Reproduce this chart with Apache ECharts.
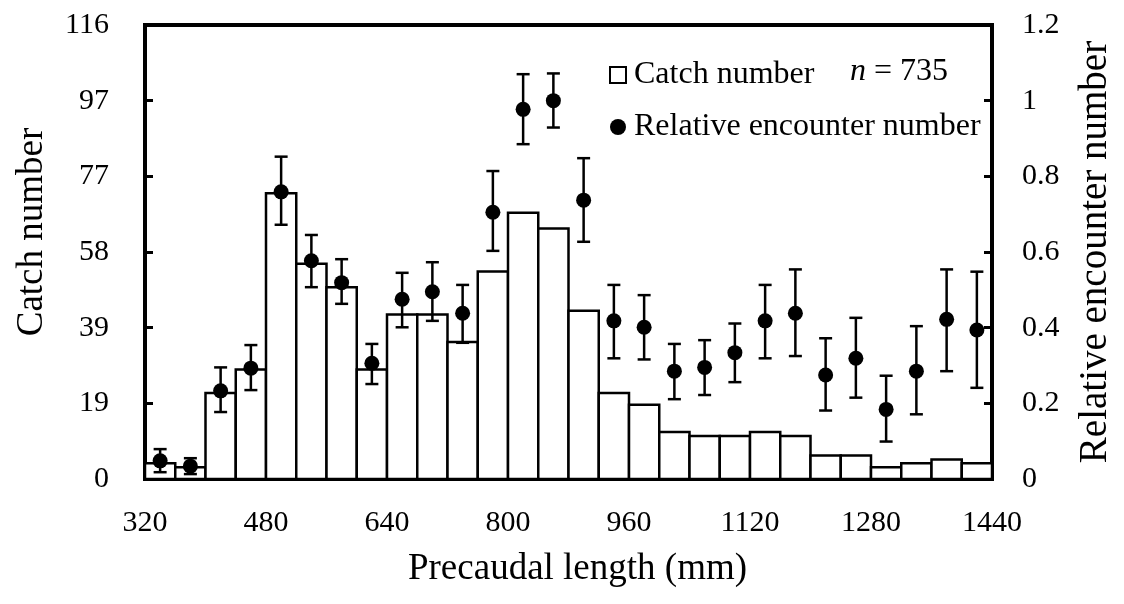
<!DOCTYPE html>
<html>
<head>
<meta charset="utf-8">
<script src="https://cdn.jsdelivr.net/npm/echarts@6/dist/echarts.min.js"></script>
<style>
html,body{margin:0;padding:0;background:#fff;}
#chart{width:1124px;height:604px;}
</style>
</head>
<body>
<div id="chart"></div>
<script>
// Length bins (mm): start of each 40 mm class
const binStarts = [320, 360, 400, 440, 480, 520, 560, 600, 640, 680, 720, 760, 800, 840,
                   880, 920, 960, 1000, 1040, 1080, 1120, 1160, 1200, 1240, 1280, 1320, 1360, 1400];
const binWidth = 40;
// Catch number per bin (left axis)
const catchNumber = [4, 3, 22, 28, 73, 55, 49, 28, 42, 42, 35, 53, 68, 64,
                     43, 22, 19, 12, 11, 11, 12, 11, 6, 6, 3, 4, 5, 4];
// Relative encounter number (right axis) with error bar limits
const relEncounter = [0.048, 0.034, 0.233, 0.293, 0.759, 0.577, 0.519, 0.306, 0.475, 0.495, 0.438, 0.705, 0.977, 1.000,
                      0.737, 0.418, 0.401, 0.285, 0.295, 0.334, 0.418, 0.438, 0.275, 0.319, 0.184, 0.285, 0.422, 0.394];
const relLower = [0.018, 0.013, 0.177, 0.235, 0.672, 0.507, 0.463, 0.251, 0.401, 0.418, 0.360, 0.603, 0.885, 0.929,
                  0.627, 0.319, 0.316, 0.211, 0.222, 0.256, 0.319, 0.325, 0.181, 0.215, 0.099, 0.171, 0.285, 0.241];
const relUpper = [0.079, 0.055, 0.295, 0.354, 0.852, 0.645, 0.581, 0.357, 0.545, 0.573, 0.513, 0.814, 1.070, 1.072,
                  0.848, 0.513, 0.486, 0.357, 0.367, 0.411, 0.513, 0.554, 0.372, 0.426, 0.273, 0.404, 0.554, 0.548];
// Tick labels
const xTicks = [320, 480, 640, 800, 960, 1120, 1280, 1440];
const leftTickLabels = ['0', '19', '39', '58', '77', '97', '116'];
const rightTickLabels = ['0', '0.2', '0.4', '0.6', '0.8', '1', '1.2'];
const sampleSize = 735;

const FONT = 'Liberation Serif';
const chart = echarts.init(document.getElementById('chart'), null, {renderer: 'canvas'});

const barData = binStarts.map((s, i) => [s, s + binWidth, catchNumber[i]]);
const pointData = binStarts.map((s, i) => [s + binWidth / 2, relEncounter[i]]);
const errData = binStarts.map((s, i) => [s + binWidth / 2, relLower[i], relUpper[i]]);

const leftMax = Number(leftTickLabels[leftTickLabels.length - 1]);
const leftInterval = leftMax / (leftTickLabels.length - 1);

const option = {
  animation: false,
  backgroundColor: '#fff',
  grid: {left: 145, right: 132, top: 25, bottom: 125, show: true, borderColor: '#000', borderWidth: 4, backgroundColor: 'transparent'},
  legend: {
    left: 604, top: 54, orient: 'vertical', selectedMode: false,
    itemWidth: 16, itemHeight: 16, itemGap: 20,
    textStyle: {fontFamily: FONT, fontSize: 32, color: '#000', padding: [0, 0, 0, 3]},
    data: [
      {name: 'Catch number', icon: 'rect', itemStyle: {color: '#fff', borderColor: '#000', borderWidth: 2}},
      {name: 'Relative encounter number', icon: 'circle', itemStyle: {color: '#000', borderWidth: 0}}
    ]
  },
  graphic: [{
    type: 'text', left: 850, top: 56,
    style: {
      text: '{i|n} = ' + sampleSize,
      font: '32px "' + FONT + '"', fill: '#000',
      rich: {i: {fontStyle: 'italic', fontFamily: FONT, fontSize: 32}}
    }
  }],
  xAxis: {
    type: 'value', min: xTicks[0], max: xTicks[xTicks.length - 1], interval: xTicks[1] - xTicks[0],
    name: 'Precaudal length (mm)', nameLocation: 'middle', nameGap: 72,
    nameTextStyle: {fontFamily: FONT, fontSize: 37, color: '#000', padding: [0, 0, 0, 18]},
    axisLine: {show: true, lineStyle: {color: '#000', width: 4}},
    axisTick: {show: true, inside: true, length: 5, lineStyle: {color: '#000', width: 3}},
    minorTick: {show: true, splitNumber: 4, length: 5, lineStyle: {color: '#000', width: 3}},
    axisLabel: {fontFamily: FONT, fontSize: 30, color: '#000', margin: 29,
      formatter: (v) => String(Math.round(v))},
    splitLine: {show: false}
  },
  yAxis: [{
    type: 'value', min: 0, max: leftMax, interval: leftInterval, position: 'left',
    name: 'Catch number', nameLocation: 'middle', nameGap: 94,
    nameTextStyle: {fontFamily: FONT, fontSize: 37, color: '#000', padding: [0, 0, 0, 40]},
    axisLine: {show: true, lineStyle: {color: '#000', width: 4}},
    axisTick: {show: true, inside: true, length: 8, lineStyle: {color: '#000', width: 3}},
    axisLabel: {fontFamily: FONT, fontSize: 30, color: '#000', margin: 36,
      formatter: (v) => leftTickLabels[Math.round(v / leftInterval)]},
    splitLine: {show: false}
  }, {
    type: 'value', min: 0, max: 1.2, interval: 0.2, position: 'right',
    name: 'Relative encounter number', nameLocation: 'middle', nameGap: 84,
    nameTextStyle: {fontFamily: FONT, fontSize: 39, color: '#000'},
    axisLine: {show: true, lineStyle: {color: '#000', width: 4}},
    axisTick: {show: true, inside: true, length: 8, lineStyle: {color: '#000', width: 3}},
    axisLabel: {fontFamily: FONT, fontSize: 30, color: '#000', margin: 30,
      formatter: (v) => rightTickLabels[Math.round(v / 0.2)]},
    splitLine: {show: false}
  }],
  series: [{
    name: 'Catch number', type: 'custom', xAxisIndex: 0, yAxisIndex: 0, z: 2,
    data: barData,
    renderItem: function (params, api) {
      const p0 = api.coord([api.value(0), api.value(2)]);
      const p1 = api.coord([api.value(1), 0]);
      return {
        type: 'rect',
        shape: {x: p0[0], y: p0[1], width: p1[0] - p0[0], height: p1[1] - p0[1]},
        style: {fill: '#fff', stroke: '#000', lineWidth: 2.5}
      };
    }
  }, {
    type: 'custom', xAxisIndex: 0, yAxisIndex: 1, z: 3,
    data: errData,
    renderItem: function (params, api) {
      const lo = api.coord([api.value(0), api.value(1)]);
      const hi = api.coord([api.value(0), api.value(2)]);
      const cap = 6.5;
      const st = {stroke: '#000', lineWidth: 2.5};
      return {
        type: 'group',
        children: [
          {type: 'line', shape: {x1: lo[0], y1: lo[1], x2: hi[0], y2: hi[1]}, style: st},
          {type: 'line', shape: {x1: lo[0] - cap, y1: lo[1], x2: lo[0] + cap, y2: lo[1]}, style: st},
          {type: 'line', shape: {x1: hi[0] - cap, y1: hi[1], x2: hi[0] + cap, y2: hi[1]}, style: st}
        ]
      };
    }
  }, {
    name: 'Relative encounter number', type: 'scatter', xAxisIndex: 0, yAxisIndex: 1, z: 4,
    data: pointData, symbol: 'circle', symbolSize: 15,
    itemStyle: {color: '#000', opacity: 1}
  }]
};
chart.setOption(option);
</script>
</body>
</html>
